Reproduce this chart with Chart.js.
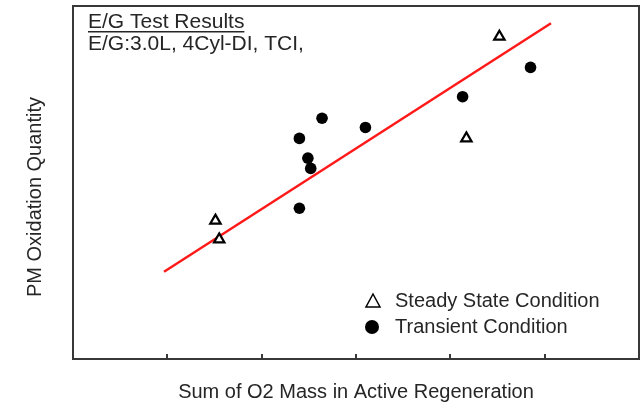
<!DOCTYPE html>
<html><head><meta charset="utf-8">
<script src="https://cdn.jsdelivr.net/npm/chart.js@4/dist/chart.umd.min.js"></script>
<style>html,body{margin:0;padding:0;background:#fff;}#wrap{width:642px;height:402px;}</style>
</head><body><div id="wrap"><canvas id="c" width="642" height="402"></canvas></div>
<script>
// Data (arbitrary units: x axis 0..6, y axis 0..10)
const steadyX = [1.51, 1.55, 4.52, 4.17];
const steadyY = [3.92, 3.39, 9.13, 6.25];
const transientX = [2.64, 3.10, 2.40, 2.49, 2.52, 2.40, 4.13, 4.85];
const transientY = [6.82, 6.56, 6.25, 5.69, 5.40, 4.27, 7.43, 8.26];
const fitX = [0.965, 5.067];
const fitY = [2.47, 9.51];
const xTicks = [1, 2, 3, 4, 5];
const titleLines = ["E/G Test Results", "E/G:3.0L, 4Cyl-DI, TCI,"];
const legendLabels = ["Steady State Condition", "Transient Condition"];
const xTitle = "Sum of O2 Mass in Active Regeneration";
const yTitle = "PM Oxidation Quantity";

const toPts = (xs, ys) => xs.map((x, i) => ({x, y: ys[i]}));
const FONT = '20px "Liberation Sans", Arial, sans-serif';
const HFONT = '21px "Liberation Sans", Arial, sans-serif';
const TXT = '#262626';

const deco = {
  id: 'deco',
  afterDraw(chart) {
    const ctx = chart.ctx, a = chart.chartArea;
    const xs = chart.scales.x;
    ctx.save();
    // frame
    ctx.strokeStyle = '#383838'; ctx.lineWidth = 2;
    ctx.strokeRect(a.left, a.top, a.right - a.left, a.bottom - a.top);
    // inward ticks
    ctx.lineWidth = 2;
    xTicks.forEach(v => {
      const px = Math.round(xs.getPixelForValue(v));
      ctx.beginPath(); ctx.moveTo(px, a.bottom); ctx.lineTo(px, a.bottom - 5); ctx.stroke();
    });
    // header text
    ctx.fillStyle = TXT; ctx.font = HFONT; ctx.textBaseline = 'middle'; ctx.textAlign = 'left';
    ctx.fillText(titleLines[0], 88, 22);
    const w = ctx.measureText(titleLines[0]).width;
    ctx.fillRect(88, 31, w, 1.5);
    ctx.fillText(titleLines[1], 88, 44);
    // legend
    ctx.font = FONT;
    ctx.fillText(legendLabels[0], 395, 301);
    ctx.fillText(legendLabels[1], 395, 327);
    ctx.strokeStyle = '#000'; ctx.lineWidth = 1.5; ctx.fillStyle = '#fff';
    ctx.beginPath(); ctx.moveTo(373, 294); ctx.lineTo(380, 307); ctx.lineTo(366, 307); ctx.closePath();
    ctx.fill(); ctx.stroke();
    ctx.fillStyle = '#000';
    ctx.beginPath(); ctx.arc(372, 327, 7, 0, Math.PI * 2); ctx.fill();
    // axis titles
    ctx.fillStyle = TXT; ctx.textAlign = 'center';
    ctx.fillText(xTitle, 356, 392);
    ctx.translate(35, 197); ctx.rotate(-Math.PI / 2);
    ctx.fillText(yTitle, 0, 0);
    ctx.restore();
  }
};

new Chart(document.getElementById('c'), {
  type: 'scatter',
  data: {
    datasets: [
      { label: 'fit', type: 'line', data: toPts(fitX, fitY), borderColor: '#ff1a1a', borderWidth: 2.5,
        pointRadius: 0, showLine: true, fill: false, order: 3 },
      { label: legendLabels[0], data: toPts(steadyX, steadyY), pointStyle: 'triangle', pointRadius: 6,
        backgroundColor: '#fff', borderColor: '#000', borderWidth: 2.2, order: 1 },
      { label: legendLabels[1], data: toPts(transientX, transientY), pointStyle: 'circle', pointRadius: 5.8,
        backgroundColor: '#000', borderColor: '#000', borderWidth: 0, order: 2 }
    ]
  },
  options: {
    responsive: false, animation: false, devicePixelRatio: 1,
    layout: { autoPadding: false, padding: { left: 73, top: 6, right: 3, bottom: 43 } },
    plugins: { legend: { display: false }, tooltip: { enabled: false } },
    scales: {
      x: { type: 'linear', min: 0, max: 6, display: false },
      y: { type: 'linear', min: 0, max: 10, display: false }
    }
  },
  plugins: [deco]
});
</script></body></html>
